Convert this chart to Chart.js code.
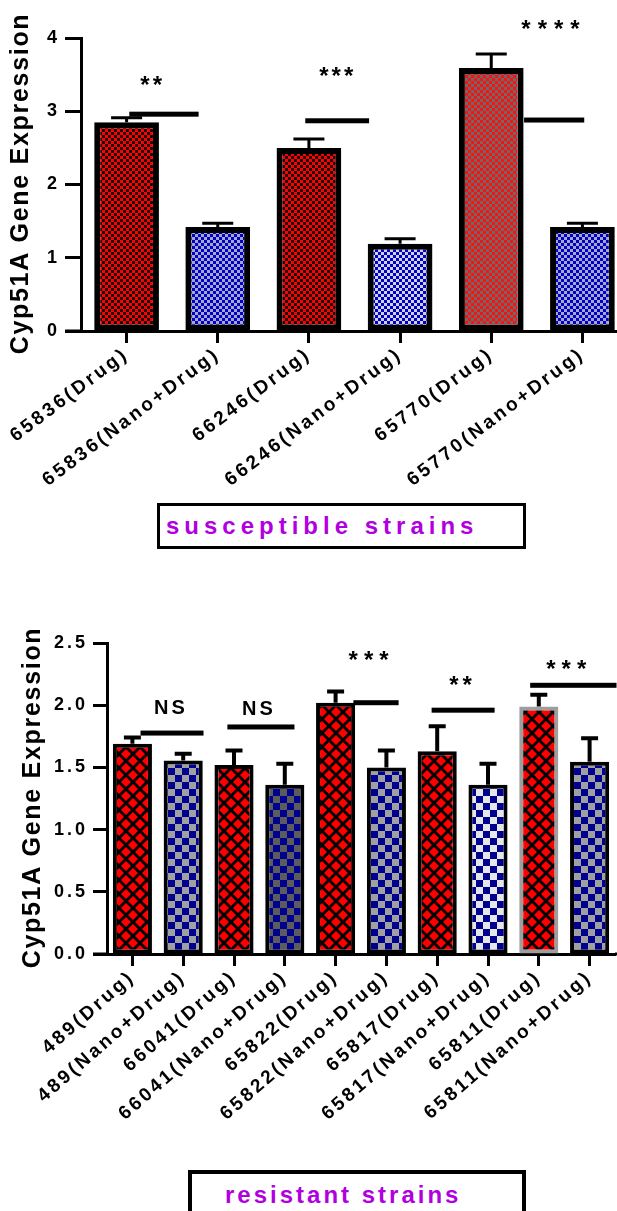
<!DOCTYPE html>
<html>
<head>
    <title>Cyp51A Gene Expression</title>
    <script src="https://cdn.jsdelivr.net/npm/chart.js"></script>
    <style>
        body { margin: 0; width: 617px; height: 1211px; overflow: hidden; background: #fff; position: relative; }
        canvas { position: absolute; left: 0; }
        .box { position: absolute; box-sizing: border-box; border: 3px solid #000; font-family: "Liberation Sans", Arial, sans-serif;
               font-weight: bold; font-size: 24px; color: #b000e0; white-space: nowrap; }
    </style>
</head>
<body>
<canvas id="topChart" width="632" height="490" style="top:0"></canvas>
<div class="box" style="left:157px; top:503px; width:369px; height:46px; line-height:40px; padding-left:6px; letter-spacing:5px;">susceptible strains</div>
<canvas id="bottomChart" width="620" height="540" style="top:600px"></canvas>
<div class="box" style="left:188px; top:1170px; width:338px; height:70px; border-width:4px; line-height:42px; padding-left:33px; letter-spacing:3px;">resistant strains</div>
<script>
    // susceptible strains
    const topLabels = ['65836(Drug)', '65836(Nano+Drug)', '66246(Drug)', '66246(Nano+Drug)', '65770(Drug)', '65770(Nano+Drug)'];
    const topMeans = [2.85, 1.42, 2.50, 1.19, 3.59, 1.42];
    const topSD = [0.06, 0.05, 0.12, 0.07, 0.19, 0.05];
    const topTicks = [0, 1, 2, 3, 4];
    const topSigText = ['**', '***', '****'];
    const topSigFrom = [0.03, 1.96, 4.36];
    const topSigTo = [0.79, 2.66, 5.02];
    const topSigLine = [2.96, 2.87, 2.88];
    const topSigTextX = [0.27, 2.30, 4.65];
    const topSigTextY = [3.44, 3.56, 4.20];

    // resistant strains
    const bottomLabels = ['489(Drug)', '489(Nano+Drug)', '66041(Drug)', '66041(Nano+Drug)', '65822(Drug)',
        '65822(Nano+Drug)', '65817(Drug)', '65817(Nano+Drug)', '65811(Drug)', '65811(Nano+Drug)'];
    const bottomMeans = [1.69, 1.555, 1.52, 1.36, 2.02, 1.50, 1.63, 1.36, 1.99, 1.545];
    const bottomSD = [0.05, 0.055, 0.115, 0.17, 0.09, 0.135, 0.20, 0.17, 0.095, 0.19];
    const bottomTicks = [0, 0.5, 1.0, 1.5, 2.0, 2.5];
    const bottomSigText = ['NS', 'NS', '***', '**', '***'];
    const bottomSigFrom = [0.16, 1.87, 4.35, 5.89, 7.83];
    const bottomSigTo = [1.40, 3.19, 5.24, 7.13, 9.53];
    const bottomSigLine = [1.776, 1.825, 2.02, 1.96, 2.16];
    const bottomSigTextX = [0.73, 2.46, 4.65, 6.46, 8.54];
    const bottomSigTextY = [1.985, 1.98, 2.41, 2.21, 2.34];

    const FONT = '"Liberation Sans", Arial, sans-serif';

    function checker(a, b, s) {
        const c = document.createElement('canvas');
        c.width = c.height = 2 * s;
        const g = c.getContext('2d');
        g.fillStyle = a; g.fillRect(0, 0, 2 * s, 2 * s);
        g.fillStyle = b; g.fillRect(s, 0, s, s); g.fillRect(0, s, s, s);
        return g.createPattern(c, 'repeat');
    }
    function diamonds() {
        const n = 14, r = 5;
        const c = document.createElement('canvas');
        c.width = c.height = n;
        const g = c.getContext('2d');
        g.fillStyle = '#000'; g.fillRect(0, 0, n, n);
        g.fillStyle = '#ff0000';
        [[7, 7], [0, 0], [n, 0], [0, n], [n, n]].forEach(([cx, cy]) => {
            g.beginPath(); g.moveTo(cx, cy - r); g.lineTo(cx + r, cy); g.lineTo(cx, cy + r); g.lineTo(cx - r, cy); g.closePath(); g.fill();
        });
        return g.createPattern(c, 'repeat');
    }

    const deco = {
        id: 'deco',
        beforeUpdate(chart) { chart.ctx.letterSpacing = '3px'; },
        beforeDraw(chart) { chart.ctx.letterSpacing = '3px'; },
        afterDatasetsDraw(chart, args, o) {
            const {ctx, scales: {x, y}} = chart;
            const meta = chart.getDatasetMeta(0);
            ctx.save();
            ctx.strokeStyle = '#000';
            ctx.lineWidth = o.errWidth;
            o.sd.forEach((d, i) => {
                const bar = meta.data[i];
                const top = y.getPixelForValue(o.means[i] + d);
                ctx.beginPath();
                ctx.moveTo(bar.x, bar.y); ctx.lineTo(bar.x, top);
                ctx.moveTo(bar.x - o.capW / 2, top); ctx.lineTo(bar.x + o.capW / 2, top);
                ctx.stroke();
            });
            ctx.restore();
        },
        afterDraw(chart, args, o) {
            const {ctx, chartArea: a, scales: {x, y}} = chart;
            ctx.save();
            // axis line runs past the plot on both sides
            ctx.fillStyle = '#000';
            ctx.fillRect(a.left - o.axisExt, a.bottom - 1.5, o.axisExt, 3);
            ctx.fillRect(a.right, a.bottom - 1.5, chart.width - a.right, 3);
            // significance bars and marks
            o.sigText.forEach((t, i) => {
                const x0 = x.getPixelForValue(o.sigFrom[i]);
                const x1 = x.getPixelForValue(o.sigTo[i]);
                const ly = y.getPixelForValue(o.sigLine[i]);
                ctx.fillRect(x0, ly - 2.5, x1 - x0, 5);
                const star = t.indexOf('*') >= 0;
                const fs = star ? 24 : 20;
                ctx.font = 'bold ' + fs + 'px ' + FONT;
                ctx.letterSpacing = o.sigSpacing[i] + 'px';
                ctx.textAlign = 'center';
                ctx.textBaseline = 'alphabetic';
                const tx = x.getPixelForValue(o.sigTextX[i]) + o.sigSpacing[i] / 2;
                const ty = y.getPixelForValue(o.sigTextY[i]) + (star ? 0.57 : 0.36) * fs;
                ctx.fillText(t, tx, ty);
            });
            // y axis title
            ctx.translate(o.titleX, (a.top + a.bottom) / 2);
            ctx.rotate(-Math.PI / 2);
            ctx.font = 'bold 25px ' + FONT;
            ctx.letterSpacing = '1.7px';
            ctx.textAlign = 'center';
            ctx.textBaseline = 'middle';
            ctx.fillText('Cyp51A Gene Expression', 1, 0);
            ctx.restore();
        }
    };

    function makeChart(id, cfg) {
        const canvas = document.getElementById(id);
        return new Chart(canvas.getContext('2d'), {
            type: 'bar',
            data: {
                labels: cfg.labels,
                datasets: [{
                    data: cfg.means,
                    backgroundColor: cfg.fills,
                    borderColor: cfg.borders,
                    borderWidth: cfg.borderWidth,
                    borderSkipped: false,
                    barPercentage: cfg.barPct,
                    categoryPercentage: 1
                }]
            },
            options: {
                responsive: false,
                animation: false,
                events: [],
                layout: {padding: {top: cfg.area.top, right: canvas.width - cfg.area.right, left: 0, bottom: 0}},
                plugins: {
                    legend: {display: false},
                    tooltip: {enabled: false},
                    deco: {
                        means: cfg.means, sd: cfg.sd, errWidth: cfg.errWidth, capW: cfg.capW, axisExt: cfg.axisExt,
                        sigText: cfg.sigText, sigFrom: cfg.sigFrom, sigTo: cfg.sigTo, sigLine: cfg.sigLine,
                        sigTextX: cfg.sigTextX, sigTextY: cfg.sigTextY, sigSpacing: cfg.sigSpacing, titleX: cfg.titleX
                    }
                },
                scales: {
                    x: {
                        grid: {display: true, drawOnChartArea: false, offset: false, tickLength: 12, tickWidth: 3, tickColor: '#000'},
                        border: {display: true, width: 3, color: '#000'},
                        ticks: {
                            autoSkip: false, minRotation: cfg.rot, maxRotation: cfg.rot, padding: 0, color: '#000',
                            font: {family: FONT, weight: 'bold', size: 19}
                        },
                        afterFit: s => { s.height = canvas.height - cfg.area.bottom; }
                    },
                    y: {
                        min: 0, max: cfg.ticks[cfg.ticks.length - 1],
                        afterBuildTicks: s => { s.ticks = cfg.ticks.map(v => ({value: v})); },
                        grid: {display: true, drawOnChartArea: false, tickLength: cfg.yTickLen, tickWidth: 3, tickColor: '#000'},
                        border: {display: true, width: 3, color: '#000'},
                        ticks: {
                            padding: 5, color: '#000', font: {family: FONT, weight: 'bold', size: 18},
                            callback: v => cfg.fmt(v)
                        },
                        afterFit: s => { s.width = cfg.area.left; }
                    }
                }
            },
            plugins: [deco]
        });
    }

    makeChart('topChart', {
        labels: topLabels, means: topMeans, sd: topSD, ticks: topTicks,
        fills: [checker('#ff0000', '#1a0000', 3), checker('#0000d0', '#a8a8bc', 3), checker('#ff0000', '#1a0000', 3),
                checker('#0000cc', '#d2d2dc', 3), checker('#ff1010', '#6a6a6a', 3), checker('#0000d0', '#a8a8bc', 3)],
        borders: '#000', borderWidth: 6, barPct: 0.71,
        area: {left: 81, right: 628, top: 38, bottom: 331},
        errWidth: 3, capW: 31, axisExt: 16, yTickLen: 16, rot: 37, titleX: 21,
        fmt: v => String(v),
        sigText: topSigText, sigFrom: topSigFrom, sigTo: topSigTo, sigLine: topSigLine,
        sigTextX: topSigTextX, sigTextY: topSigTextY, sigSpacing: [3, 3, 7]
    });

    const dia = diamonds();
    makeChart('bottomChart', {
        labels: bottomLabels, means: bottomMeans, sd: bottomSD, ticks: bottomTicks,
        fills: [dia, checker('#000090', '#a0a0a0', 7), dia, checker('#000090', '#5c5c5c', 7), dia,
                checker('#000090', '#a0a0a0', 7), dia, checker('#000090', '#e6e6e6', 7), dia, checker('#000090', '#a0a0a0', 7)],
        borders: ['#000', '#000', '#000', '#000', '#000', '#000', '#000', '#000', '#9e9e9e', '#000'],
        borderWidth: 4, barPct: 0.77,
        area: {left: 107, right: 615, top: 43, bottom: 354},
        errWidth: 4, capW: 17, axisExt: 14, yTickLen: 14, rot: 41, titleX: 33,
        fmt: v => v.toFixed(1),
        sigText: bottomSigText, sigFrom: bottomSigFrom, sigTo: bottomSigTo, sigLine: bottomSigLine,
        sigTextX: bottomSigTextX, sigTextY: bottomSigTextY, sigSpacing: [3, 3, 6, 4, 6]
    });
</script>
</body>
</html>
